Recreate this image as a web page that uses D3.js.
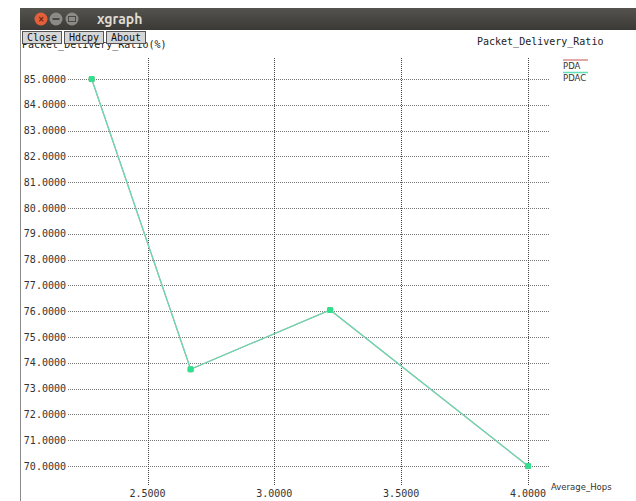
<!DOCTYPE html>
<html>
<head>
<meta charset="utf-8">
<script src="https://cdn.jsdelivr.net/npm/d3@7/dist/d3.min.js"></script>
<style>
  html, body { margin: 0; padding: 0; background: #fff; }
  svg { display: block; }
</style>
</head>
<body>
<svg id="chart" width="636" height="501"></svg>
<script>
// Average hop count on the x axis, packet delivery ratio (%) on the y axis
const hops = [2.28, 2.67, 3.22, 4.0];
const pdaValues = [85.0, 73.75, 76.05, 70.0];
const pdacValues = [85.0, 73.75, 76.05, 70.0];
const seriesNames = ["PDA", "PDAC"];
const xTicks = [2.5, 3.0, 3.5, 4.0];
const yTicks = [70, 71, 72, 73, 74, 75, 76, 77, 78, 79, 80, 81, 82, 83, 84, 85];
const buttons = ["Close", "Hdcpy", "About"];

const svg = d3.select("#chart");
const mono = "'DejaVu Sans Mono', 'Liberation Mono', monospace";

// window frame
const frame = { left: 20, top: 8, barH: 22 };
const grad = svg.append("defs").append("linearGradient")
  .attr("id", "bar").attr("x1", 0).attr("y1", 0).attr("x2", 0).attr("y2", 1);
grad.append("stop").attr("offset", 0).attr("stop-color", "#55534e");
grad.append("stop").attr("offset", 1).attr("stop-color", "#3a3935");

svg.append("rect").attr("x", frame.left).attr("y", frame.top)
  .attr("width", 636 - frame.left).attr("height", frame.barH).attr("fill", "url(#bar)");
svg.append("line").attr("x1", frame.left + 0.5).attr("x2", frame.left + 0.5)
  .attr("y1", frame.top + frame.barH).attr("y2", 501).attr("stroke", "#8a8a8a");

// title-bar controls
svg.append("circle").attr("cx", 41).attr("cy", 19).attr("r", 6.5).attr("fill", "#e4603a");
svg.append("text").attr("x", 41).attr("y", 22).attr("text-anchor", "middle")
  .attr("font-family", "DejaVu Sans").attr("font-size", 8).attr("font-weight", "bold")
  .attr("fill", "#6a2010").text("×");
svg.append("circle").attr("cx", 56).attr("cy", 19).attr("r", 6.5).attr("fill", "#8c8a84");
svg.append("rect").attr("x", 52.5).attr("y", 18).attr("width", 7).attr("height", 2).attr("fill", "#4a4945");
svg.append("circle").attr("cx", 72).attr("cy", 19).attr("r", 6.5).attr("fill", "#8c8a84");
svg.append("rect").attr("x", 68.5).attr("y", 16.5).attr("width", 7).attr("height", 5)
  .attr("fill", "none").attr("stroke", "#4a4945");
svg.append("text").attr("x", 97).attr("y", 24)
  .attr("font-family", "Ubuntu, 'DejaVu Sans', sans-serif").attr("font-size", 14).attr("font-weight", "bold")
  .attr("fill", "#dfdbd2").text("xgraph");

// scales
const x = d3.scaleLinear().domain([2.5, 4.0]).range([147.5, 528]);
const y = d3.scaleLinear().domain([70, 85]).range([466, 79]);
const plot = { left: 68, right: 550, top: 58, bottom: 485 };

// grid
const grid = svg.append("g").attr("stroke", "#444").attr("stroke-width", 1)
  .attr("stroke-dasharray", "1,1").attr("shape-rendering", "crispEdges");
grid.selectAll(".h").data(yTicks).join("line")
  .attr("x1", plot.left).attr("x2", plot.right)
  .attr("y1", d => Math.round(y(d)) + 0.5).attr("y2", d => Math.round(y(d)) + 0.5)
  .attr("stroke", "#777");
grid.selectAll(".v").data(xTicks).join("line")
  .attr("x1", d => Math.round(x(d)) + 0.5).attr("x2", d => Math.round(x(d)) + 0.5)
  .attr("y1", plot.top).attr("y2", plot.bottom);

// y tick labels
svg.append("g").selectAll("text").data(yTicks).join("text")
  .attr("x", 66).attr("y", d => y(d) + 3.5).attr("text-anchor", "end")
  .attr("font-family", mono).attr("font-size", 10).attr("fill", "#333")
  .text(d => d.toFixed(4));

// x tick labels
svg.append("g").selectAll("text").data(xTicks).join("text")
  .attr("x", d => x(d)).attr("y", 497).attr("text-anchor", "middle")
  .attr("font-family", mono).attr("font-size", 10).attr("fill", "#333")
  .text(d => d.toFixed(4));

// axis titles
svg.append("text").attr("x", 22).attr("y", 48)
  .attr("font-family", mono).attr("font-size", 10).attr("fill", "#222")
  .text("Packet_Delivery_Ratio(%)");
svg.append("text").attr("x", 477).attr("y", 45)
  .attr("font-family", mono).attr("font-size", 10).attr("fill", "#222")
  .text("Packet_Delivery_Ratio");
svg.append("text").attr("x", 551).attr("y", 490)
  .attr("font-family", "'DejaVu Sans', sans-serif").attr("font-size", 8.5).attr("fill", "#333")
  .text("Average_Hops");

// buttons (drawn over the top of the y-axis title)
const bx = [22, 64, 106];
const bw = [39, 39, 39];
buttons.forEach((b, i) => {
  svg.append("rect").attr("x", bx[i] + 0.5).attr("y", 31.5).attr("width", bw[i]).attr("height", 12)
    .attr("fill", "#d6d6d6").attr("stroke", "#555");
  svg.append("text").attr("x", bx[i] + bw[i] / 2 + 0.5).attr("y", 41)
    .attr("font-family", mono).attr("font-size", 10).attr("fill", "#111")
    .attr("text-anchor", "middle").text(b);
});

// series
const colors = ["#d98a8a", "#5ee0b4"];
const pointColor = "#2fe08c";
const seriesData = [pdaValues, pdacValues];
const line = d3.line().x(d => x(d[0])).y(d => y(d[1]));
seriesData.forEach((vals, i) => {
  const pts = hops.map((h, j) => [h, vals[j]]);
  svg.append("path").datum(pts).attr("d", line)
    .attr("fill", "none").attr("stroke", colors[i]).attr("stroke-width", 1.2);
  svg.append("g").selectAll("rect").data(pts).join("rect")
    .attr("x", d => x(d[0]) - 3).attr("y", d => y(d[1]) - 3)
    .attr("width", 6).attr("height", 6).attr("rx", 1.5)
    .attr("fill", i === 1 ? pointColor : colors[i]);
});

// legend
seriesNames.forEach((n, i) => {
  const ly = 60 + i * 12.5;
  svg.append("line").attr("x1", 563).attr("x2", 588).attr("y1", ly).attr("y2", ly)
    .attr("stroke", colors[i]).attr("stroke-width", 1.5);
  svg.append("text").attr("x", 563).attr("y", ly + 8.5)
    .attr("font-family", "'DejaVu Sans', sans-serif").attr("font-size", 8.5).attr("fill", "#333")
    .text(n);
});
</script>
</body>
</html>
